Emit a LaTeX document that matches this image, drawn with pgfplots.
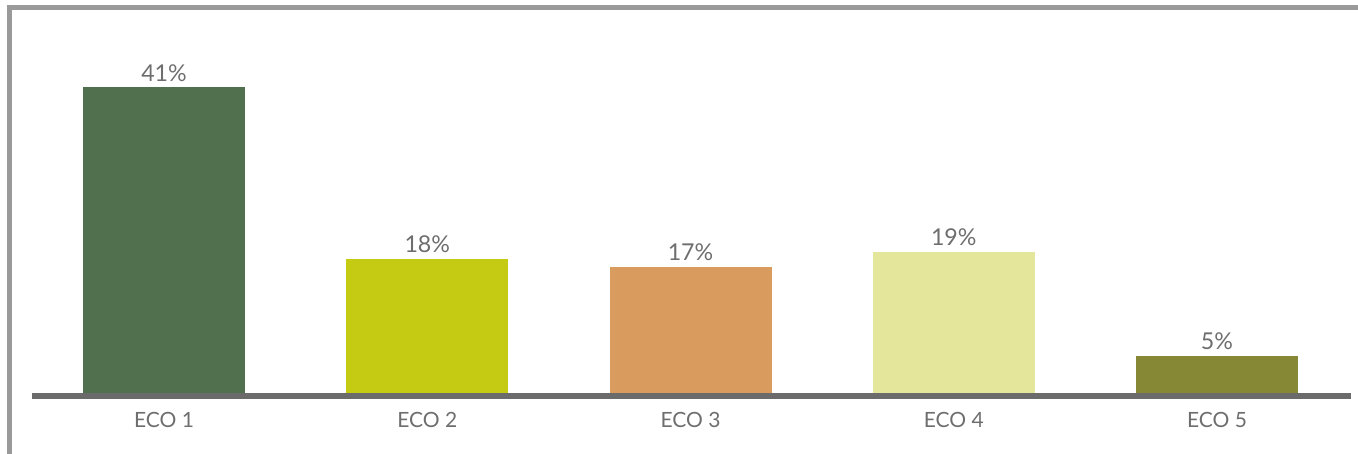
\documentclass[border=0pt]{standalone}
\usepackage{pgfplots}
\pgfplotsset{compat=1.18}
\usepackage{fontspec}
\setmainfont{Lato}
\definecolor{ecoA}{HTML}{51704E}
\definecolor{ecoB}{HTML}{C4CB12}
\definecolor{ecoC}{HTML}{DA9B5E}
\definecolor{ecoD}{HTML}{E4E69C}
\definecolor{ecoE}{HTML}{868835}
\definecolor{txt}{HTML}{6E6E6E}
\definecolor{axl}{HTML}{6B6B6B}
\definecolor{frm}{HTML}{9A9A9A}
\begin{document}
\begin{tikzpicture}[x=1bp,y=1bp]
\useasboundingbox (0,0) rectangle (679,226.5);
\draw[frm, line width=2.5bp] (4.75,-3) -- (4.75,222.75) -- (682,222.75);
\begin{axis}[
  at={(16.2bp,29.75bp)}, anchor=south west,
  scale only axis, width=658.1bp, height=186.75bp,
  xmin=-0.5, xmax=4.5, ymin=0, ymax=50,
  axis line style={draw=none}, tick style={draw=none},
  ytick=\empty,
  xtick={0,1,2,3,4},
  xticklabels={ECO 1,ECO 2,ECO 3,ECO 4,ECO 5},
  xticklabel style={font=\fontsize{10.5bp}{12bp}\selectfont, text=txt, anchor=north, inner sep=0pt, yshift=-9.1bp},
  nodes near coords={\pgfmathprintnumber{\pgfplotspointmeta}\%},
  nodes near coords style={font=\fontsize{11.6bp}{13bp}\selectfont, text=txt, anchor=south, inner sep=0pt, yshift=2.8bp},
  /pgf/number format/assume math mode=true,
  clip=false,
]
\addplot[ybar, bar width=0.6154, fill=ecoA, draw=none] coordinates {(0,41)};
\addplot[ybar, bar width=0.6154, fill=ecoB, draw=none] coordinates {(1,18)};
\addplot[ybar, bar width=0.6154, fill=ecoC, draw=none] coordinates {(2,17)};
\addplot[ybar, bar width=0.6154, fill=ecoD, draw=none] coordinates {(3,19)};
\addplot[ybar, bar width=0.6154, fill=ecoE, draw=none] coordinates {(4,5)};
\end{axis}
\draw[axl, line width=3bp] (16,28.75) -- (675.5,28.75);
\end{tikzpicture}
\end{document}
